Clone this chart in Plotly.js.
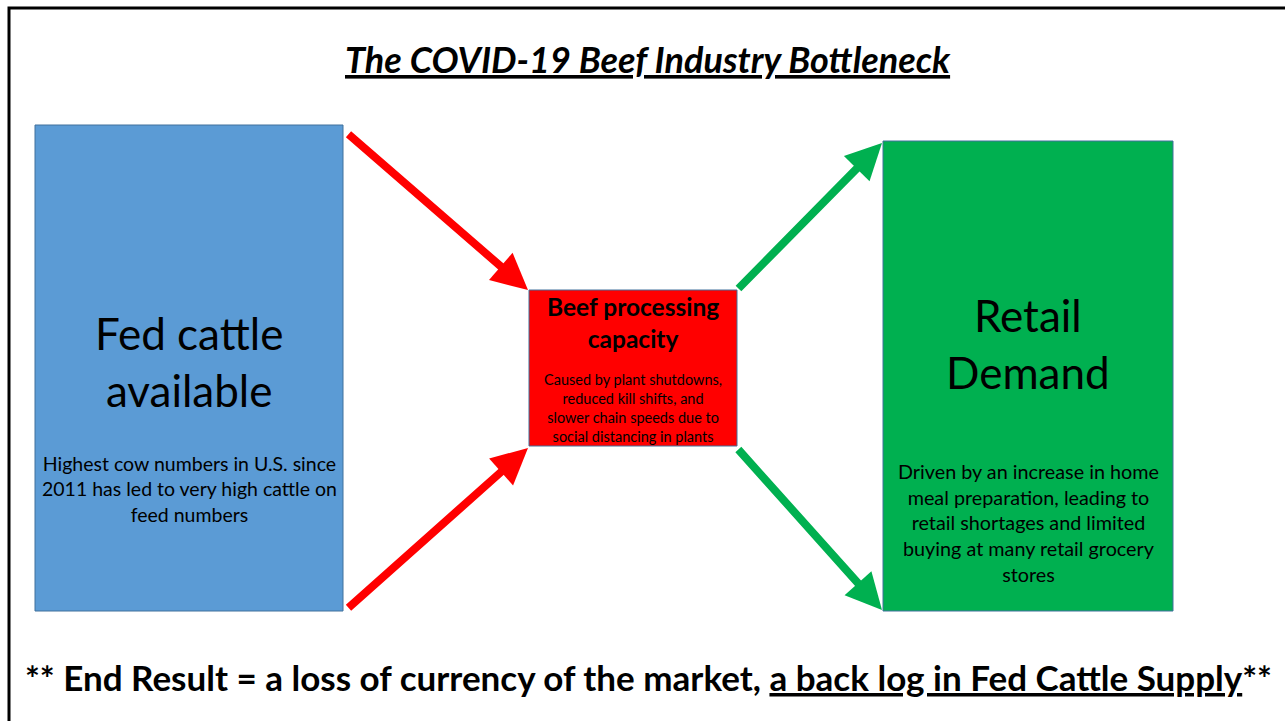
<!DOCTYPE html>
<html>
<head>
<meta charset="utf-8">
<script src="https://cdn.plot.ly/plotly-3.0.1.min.js"></script>
<style>html,body{margin:0;padding:0;background:#fff;}#chart{width:1285px;height:721px;}</style>
</head>
<body>
<div id="chart"></div>
<script>
// Diagram content
const titleText = "The COVID-19 Beef Industry Bottleneck";
const boxNames = ["Fed cattle<br>available", "<b>Beef processing<br>capacity</b>", "Retail<br>Demand"];
const boxNotes = [
  "Highest cow numbers in U.S. since<br>2011 has led to very high cattle on<br>feed numbers",
  "Caused by plant shutdowns,<br>reduced kill shifts, and<br>slower chain speeds due to<br>social distancing in plants",
  "Driven by an increase in home<br>meal preparation, leading to<br>retail shortages and limited<br>buying at many retail grocery<br>stores"
];
const footerText = "<b>** End Result = a loss of currency of the market, <u>a back log in Fed Cattle Supply</u>**</b>";

// Box geometry (slide coordinates, px)
const boxX0 = [35, 529, 883];
const boxX1 = [343, 737, 1173];
const boxY0 = [125, 290, 141];
const boxY1 = [611, 446, 611];
const boxFill = ["#5B9BD5", "#FF0000", "#00B050"];
const nameY = [361, 322, 343];
const nameSize = [44, 24.5, 44];
const noteY = [489, 408, 522];
const noteSize = [19.5, 14.5, 19.8];

// Arrows: tail -> head
const arrTailX = [347, 347, 737, 737];
const arrTailY = [133, 609, 290, 448];
const arrHeadX = [528, 528, 882, 882];
const arrHeadY = [290, 448, 143, 610];
const arrColor = ["#FF0000", "#FF0000", "#00B050", "#00B050"];

const font = "Lato, 'Open Sans', sans-serif";
const shapes = [];
const annotations = [];

// outer frame
shapes.push({type: "rect", xref: "x", yref: "y", x0: 9, x1: 1300, y0: 8, y1: 740,
  line: {color: "#000", width: 3}, fillcolor: "rgba(0,0,0,0)"});

for (let i = 0; i < boxNames.length; i++) {
  shapes.push({type: "rect", xref: "x", yref: "y", x0: boxX0[i], x1: boxX1[i], y0: boxY0[i], y1: boxY1[i],
    fillcolor: boxFill[i], line: {color: "#41719C", width: 1}, layer: "below"});
  const cx = (boxX0[i] + boxX1[i]) / 2;
  annotations.push({x: cx, y: nameY[i], xref: "x", yref: "y", text: boxNames[i], showarrow: false,
    font: {family: font, size: nameSize[i], color: "#000"}, align: "center", xanchor: "center", yanchor: "middle"});
  annotations.push({x: cx, y: noteY[i], xref: "x", yref: "y", text: boxNotes[i], showarrow: false,
    font: {family: font, size: noteSize[i], color: "#000"}, align: "center", xanchor: "center", yanchor: "middle"});
}

for (let i = 0; i < arrTailX.length; i++) {
  annotations.push({x: arrHeadX[i], y: arrHeadY[i], ax: arrTailX[i], ay: arrTailY[i],
    xref: "x", yref: "y", axref: "x", ayref: "y", text: "", showarrow: true,
    arrowhead: 2, arrowsize: 0.9, arrowwidth: 8, arrowcolor: arrColor[i], standoff: 0, startstandoff: 0});
}

annotations.push({x: 648, y: 59, xref: "x", yref: "y", text: "<b><i><u>" + titleText + "</u></i></b>",
  showarrow: false, font: {family: font, size: 36, color: "#000"}, xanchor: "center", yanchor: "middle"});
annotations.push({x: 648, y: 677, xref: "x", yref: "y", text: footerText,
  showarrow: false, font: {family: font, size: 35, color: "#000"}, xanchor: "center", yanchor: "middle"});

const layout = {
  width: 1285, height: 721,
  margin: {l: 0, r: 0, t: 0, b: 0},
  paper_bgcolor: "#fff", plot_bgcolor: "#fff",
  xaxis: {range: [0, 1285], visible: false, fixedrange: true},
  yaxis: {range: [721, 0], visible: false, fixedrange: true},
  shapes: shapes, annotations: annotations, showlegend: false
};
Plotly.newPlot("chart", [], layout, {staticPlot: true});
</script>
</body>
</html>
